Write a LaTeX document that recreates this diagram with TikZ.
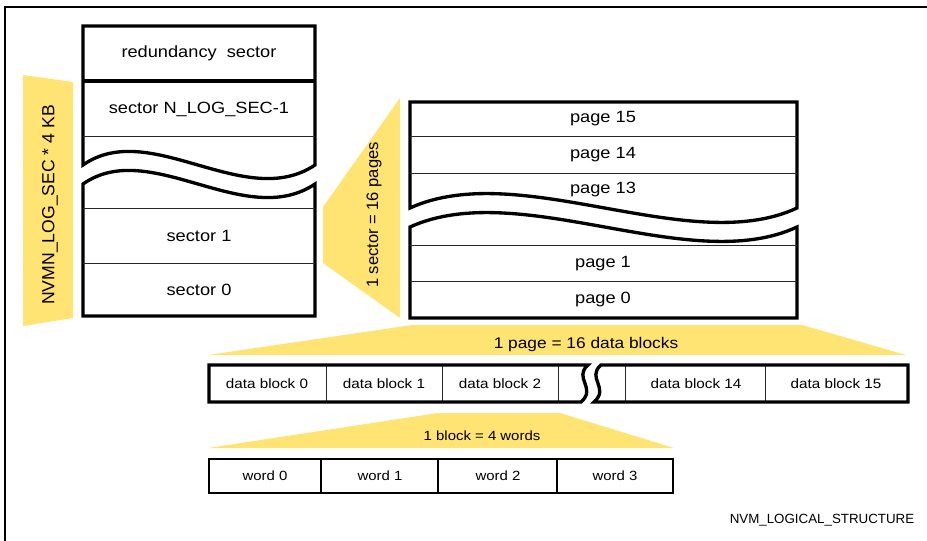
\documentclass[tikz,border=0pt]{standalone}
\usepackage{fontspec}
\setmainfont[FakeStretch=1.12]{Liberation Sans}
\newfontfamily\uprightsans{Liberation Sans}
\definecolor{nvmyellow}{RGB}{255,227,115}
\tikzset{
  thickline/.style={line width=2.5pt,line join=miter},
  thinline/.style={line width=0.6pt,black!85},
  celltxt/.style={font=\fontsize{12.2}{14}\selectfont,inner sep=0pt},
  smalltxt/.style={font=\fontsize{10.2}{12}\selectfont,inner sep=0pt},
  sidetxt/.style={font=\uprightsans\fontsize{12.4}{14}\selectfont,rotate=90,inner sep=0pt},
}
\begin{document}
\begin{tikzpicture}[x=0.75pt,y=-0.75pt]
  \useasboundingbox (0,0) rectangle (927,541);
  % frame
  \draw[line width=1.1pt] (5,541) -- (5,7) -- (927,7);
  % yellow bands
  \fill[nvmyellow] (23,75) -- (73,82) -- (73,318) -- (23,326) -- cycle;
  \fill[nvmyellow] (323,207) -- (400,98) -- (400,318) -- (323,263) -- cycle;
  \fill[nvmyellow] (412,325) -- (802,325) -- (906,355) -- (208,355) -- cycle;
  \fill[nvmyellow] (438,413) -- (560,413) -- (674,448) -- (208,448) -- cycle;
  \node[sidetxt,font=\uprightsans\fontsize{13.2}{15}\selectfont] (memsize) at (50,205) {NVMN\_LOG\_SEC * 4 KB};
  \node[sidetxt] (secsize) at (374,215) {1 sector = 16 pages};
  \node[celltxt,font=\fontsize{11.6}{14}\selectfont] (pagesize) at (586,345) {1 page = 16 data blocks};
  \node[smalltxt,font=\fontsize{10}{12}\selectfont] (blksize) at (482,436) {1 block = 4 words};
  % sectors
  \draw[thickline] (83,165) .. controls (150,118) and (245,212) .. (315,165) -- (315,26) -- (83,26) -- cycle;
  \draw[thickline] (83,81) -- (315,81);
  \draw[thinline] (83,136) -- (315,136);
  \draw[thickline] (83,184) .. controls (150,137) and (245,231) .. (315,184) -- (315,316) -- (83,316) -- cycle;
  \foreach \y in {208,263}
    \draw[thinline] (83,\y) -- (315,\y);
  \node[celltxt] (redsec) at (199,53) {redundancy\ \ sector};
  \node[celltxt] (lastsec) at (199,109) {sector N\_LOG\_SEC-1};
  \node[celltxt] (sec1) at (199,236) {sector 1};
  \node[celltxt] (sec0) at (199,290) {sector 0};
  % pages
  \node[celltxt] (page15) at (603,119) {page 15};
  \node[celltxt] (page14) at (603,155) {page 14};
  \node[celltxt] (page13) at (603,190) {page 13};
  \node[celltxt] (page1) at (603,264) {page 1};
  \node[celltxt] (page0) at (603,300) {page 0};
  \draw[thickline] (410,208) .. controls (520,158) and (690,258) .. (797,208) -- (797,102) -- (410,102) -- cycle;
  \foreach \y in {136,173}
    \draw[thinline] (410,\y) -- (797,\y);
  \draw[thickline] (410,227) .. controls (520,177) and (690,277) .. (797,227) -- (797,318) -- (410,318) -- cycle;
  \foreach \y in {245,281}
    \draw[thinline] (410,\y) -- (797,\y);
  % data blocks
  \foreach \x in {326,442,558,625,765}
    \draw[thinline] (\x,365) -- (\x,402);
  \draw[thickline] (581,402) .. controls (597,388) and (573,378) .. (588,365) -- (209,365) -- (209,402) -- cycle;
  \draw[thickline] (594,402) .. controls (610,388) and (586,378) .. (601,365) -- (908,365) -- (908,402) -- cycle;
  \foreach \cx/\n in {267/0,384/1,500/2,696/14,836/15}
    \node[smalltxt] (blk\n) at (\cx,384) {data block \n};
  % words
  \draw[line width=1.1pt] (209,459) rectangle (673,493);
  \foreach \x in {321,438,557}
    \draw[line width=0.9pt] (\x,459) -- (\x,493);
  \foreach \cx/\n in {265/0,380/1,498/2,615/3}
    \node[smalltxt,font=\fontsize{10}{12}\selectfont] (word\n) at (\cx,476) {word \n};
  \node[font=\uprightsans\fontsize{10}{12}\selectfont,inner sep=0pt] (figname) at (822,520) {NVM\_LOGICAL\_STRUCTURE};
\end{tikzpicture}
\end{document}
